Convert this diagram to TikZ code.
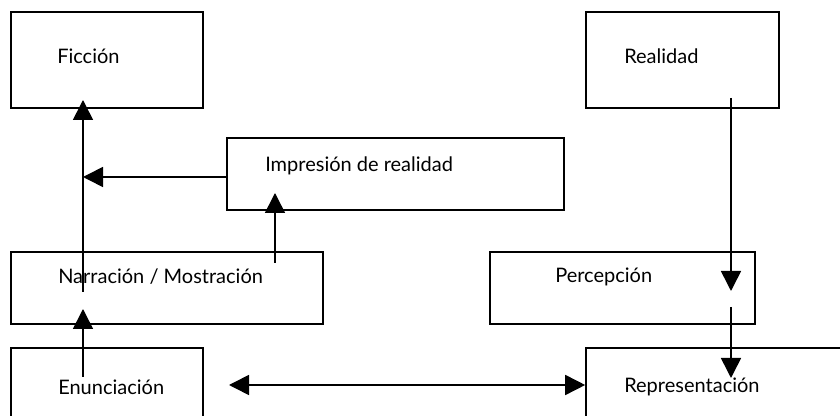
\documentclass[tikz,border=0pt]{standalone}
\usepackage{fontspec}
\setmainfont{Lato}
\usetikzlibrary{arrows.meta,fit}
\begin{document}
\begin{tikzpicture}[x=0.75pt,y=-0.75pt,
  box/.style={draw,line width=1.2pt,inner sep=0pt,rectangle},
  lbl/.style={anchor=west,inner sep=0pt,font=\fontsize{15}{17}\selectfont},
  arr/.style={line width=1.2pt,-{Triangle[length=15pt,width=15pt]}},
  darr/.style={line width=1.2pt,{Triangle[length=15pt,width=15pt]}-{Triangle[length=15pt,width=15pt]}}]
\clip (0,0) rectangle (840,416);
\fill[white] (0,0) rectangle (840,416);
% boxes
\node[box,fit={(11,12) (203,108)}] (fic) {};
\node[box,fit={(586,12) (779,108)}] (rea) {};
\node[box,fit={(227,138) (564,210)}] (imp) {};
\node[box,fit={(11,252) (323,324)}] (nar) {};
\node[box,fit={(490,252) (755,324)}] (per) {};
\node[box,fit={(11,348) (203,440)}] (enu) {};
\node[box,fit={(586,348) (870,440)}] (rep) {};
% labels
\node[lbl] (ficT) at (57,56) {Ficción};
\node[lbl] (reaT) at (624,56) {Realidad};
\node[lbl] (impT) at (265,166) {Impresión de realidad};
\node[lbl] (narT) at (58,277) {Narración / Mostración};
\node[lbl] (perT) at (555,277) {Percepción};
\node[lbl] (enuT) at (58,387) {Enunciación};
\node[lbl] (repT) at (624,387) {Representación};
% connector ends
\coordinate (c1s) at (83,292);
\coordinate (c1e) at (83,100);
\coordinate (c2e) at (83,177);
\coordinate (c3s) at (275,263);
\coordinate (c3e) at (275,193);
\coordinate (c4s) at (83,377);
\coordinate (c4e) at (83,309);
\coordinate (c5s) at (731,98);
\coordinate (c5e) at (731,291);
\coordinate (c6s) at (731,307);
\coordinate (c6e) at (731,378);
\coordinate (c7s) at (229,385);
% connectors
\draw[arr] (c1s) -- (c1e);
\draw[arr] (imp.west |- c2e) -- (c2e);
\draw[arr] (c3s) -- (c3e);
\draw[arr] (c4s) -- (c4e);
\draw[arr] (c5s) -- (c5e);
\draw[arr] (c6s) -- (c6e);
\draw[darr] (c7s) -- (rep.west |- c7s);
\end{tikzpicture}
\end{document}
